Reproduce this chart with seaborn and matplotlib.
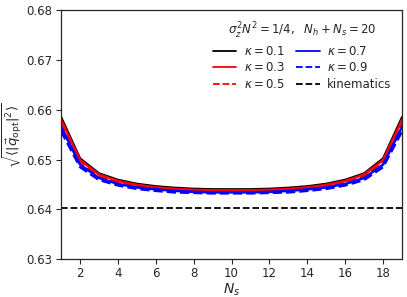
import numpy as np
import pandas as pd
import seaborn as sns
import matplotlib.pyplot as plt

ns = list(range(1, 20))
k01 = [0.6585, 0.6502, 0.6472, 0.6459, 0.6451, 0.6446, 0.6443, 0.6441, 0.6440, 0.6440,
       0.6440, 0.6441, 0.6443, 0.6446, 0.6451, 0.6459, 0.6472, 0.6502, 0.6585]
k03 = [0.6580, 0.6499, 0.6470, 0.6457, 0.6449, 0.6444, 0.6441, 0.6439, 0.6438, 0.6438,
       0.6438, 0.6439, 0.6441, 0.6444, 0.6449, 0.6457, 0.6470, 0.6499, 0.6580]
k05 = [0.6574, 0.6495, 0.6467, 0.6454, 0.6447, 0.6442, 0.6439, 0.6437, 0.6436, 0.6436,
       0.6436, 0.6437, 0.6439, 0.6442, 0.6447, 0.6454, 0.6467, 0.6495, 0.6574]
k07 = [0.6566, 0.6490, 0.6463, 0.6451, 0.6444, 0.6440, 0.6437, 0.6435, 0.6434, 0.6434,
       0.6434, 0.6435, 0.6437, 0.6440, 0.6444, 0.6451, 0.6463, 0.6490, 0.6566]
k09 = [0.6557, 0.6485, 0.6459, 0.6448, 0.6441, 0.6437, 0.6434, 0.6433, 0.6432, 0.6432,
       0.6432, 0.6433, 0.6434, 0.6437, 0.6441, 0.6448, 0.6459, 0.6485, 0.6557]
kinematics = 0.6402

series = [(r'$\kappa=0.1$', k01, 'black', '-'),
          (r'$\kappa=0.3$', k03, 'red', '-'),
          (r'$\kappa=0.5$', k05, 'red', '--'),
          (r'$\kappa=0.7$', k07, 'blue', '-'),
          (r'$\kappa=0.9$', k09, 'blue', '--')]

sns.set_style('ticks')
plt.rcParams['font.family'] = ['DejaVu Sans']
plt.rcParams['mathtext.fontset'] = 'dejavusans'

fig, ax = plt.subplots(figsize=(4.07, 2.97), dpi=100)
for lab, vals, col, ls in series:
    df = pd.DataFrame({'Ns': ns, 'q': vals})
    sns.lineplot(data=df, x='Ns', y='q', color=col, linestyle=ls, linewidth=1.8,
                 label=lab, ax=ax)
ax.axhline(kinematics, color='black', linestyle='--', linewidth=1.3, label='kinematics')

ax.set_xlim(1, 19)
ax.set_ylim(0.63, 0.68)
ax.set_xticks([2, 4, 6, 8, 10, 12, 14, 16, 18])
ax.set_yticks([0.63, 0.64, 0.65, 0.66, 0.67, 0.68])
ax.tick_params(labelsize=8.5, length=3.5, pad=2.5)
ax.set_xlabel(r'$N_s$', fontsize=10, labelpad=1)
ax.set_ylabel(r'$\sqrt{\langle|\vec{q}_{\rm opt}|^2\rangle}$', fontsize=9.5, labelpad=2)
for s in ax.spines.values():
    s.set_visible(True)
    s.set_linewidth(0.9)

leg = ax.legend(ncol=2, frameon=False, loc='upper right', fontsize=8.5,
                title=r'$\sigma_z^2N^2=1/4,\ \ N_h+N_s=20$', title_fontsize=8.5,
                handlelength=2, handletextpad=0.6, columnspacing=1.0,
                labelspacing=0.3, borderaxespad=0.5)
for h in leg.get_lines():
    h.set_linewidth(1.3)

fig.subplots_adjust(left=0.15, right=0.988, top=0.965, bottom=0.128)
fig.savefig('out.png', dpi=100)
